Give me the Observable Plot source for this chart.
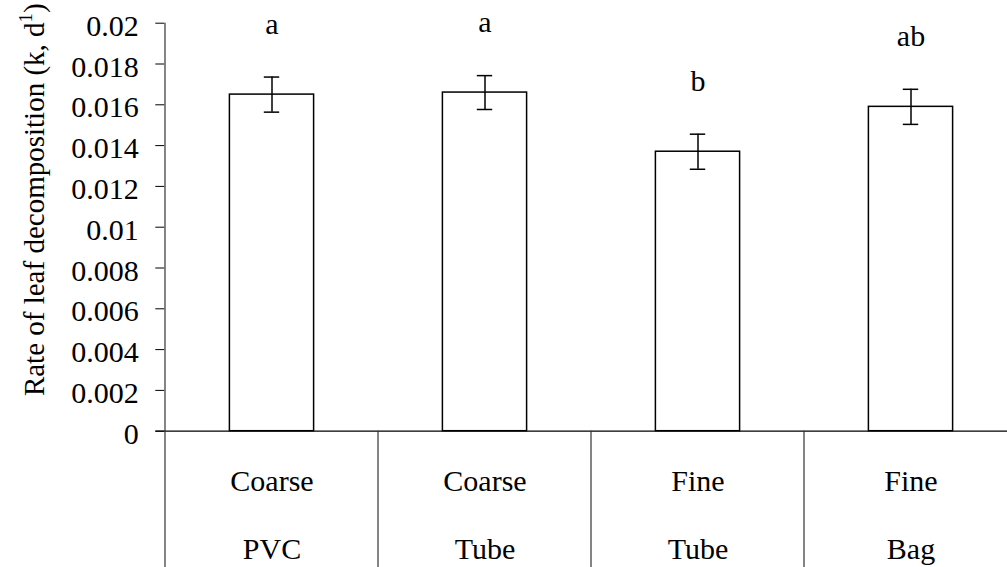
<!DOCTYPE html>
<html>
<head>
<meta charset="utf-8">
<script src="https://cdn.jsdelivr.net/npm/d3@7"></script>
<script src="https://cdn.jsdelivr.net/npm/@observablehq/plot@0.6"></script>
<style>
  body { margin: 0; background: #fff; }
  #chart { width: 1007px; height: 567px; overflow: hidden; position: relative; }
  #chart svg { display: block; max-width: none !important; width: 1018px !important; height: 567px !important; }
  #chart svg text { font-family: 'Liberation Serif', 'Times New Roman', serif !important; }
</style>
</head>
<body>
<div id="chart"></div>
<script>
// Leaf decomposition rate by mesh size and enclosure type
const mesh = ["Coarse", "Coarse", "Fine", "Fine"];
const housing = ["PVC", "Tube", "Tube", "Bag"];
const rateK = [0.0165, 0.0166, 0.0137, 0.0159];
const rateSE = [0.00086, 0.00083, 0.00086, 0.00086];
const groupLetters = ["a", "a", "b", "ab"];
const yTicks = [0, 0.002, 0.004, 0.006, 0.008, 0.01, 0.012, 0.014, 0.016, 0.018, 0.02];
const yTitle = "Rate of leaf decomposition (k, d";
const yTitleSup = "1";

const rows = mesh.map((m, i) => ({
  cat: m + "\n" + housing[i],
  k: rateK[i],
  lo: rateK[i] - rateSE[i],
  hi: rateK[i] + rateSE[i],
  letter: groupLetters[i]
}));
const cats = rows.map(d => d.cat);

const W = 1018, H = 567;
const font = "'Liberation Serif', 'Times New Roman', serif";

const chart = Plot.plot({
  width: W,
  height: H,
  marginLeft: 164.3,
  marginRight: 0,
  marginTop: 22.7,
  marginBottom: 136.3,
  style: { fontFamily: font, fontSize: "30px", color: "#000", background: "#fff", overflow: "visible" },
  x: { domain: cats, padding: 0 },
  y: { domain: [0, 0.02] },
  marks: [
    Plot.barY(rows, { x: "cat", y: "k", fill: "white", stroke: "#000", strokeWidth: 1.5, insetLeft: 64.4, insetRight: 64.4 }),
    Plot.ruleX(rows, { x: "cat", y1: "lo", y2: "hi", stroke: "#000", strokeWidth: 1.5 }),
    Plot.tickY(rows, { x: "cat", y: "lo", stroke: "#000", strokeWidth: 1.5, insetLeft: 98.8, insetRight: 98.8 }),
    Plot.tickY(rows, { x: "cat", y: "hi", stroke: "#000", strokeWidth: 1.5, insetLeft: 98.8, insetRight: 98.8 }),
    Plot.text(rows, { x: "cat", y: "hi", text: "letter", dy: -53, fontSize: 30, fill: "#000", fontFamily: font }),
    Plot.ruleY([0], { stroke: "#000", strokeWidth: 1.3, insetLeft: -9 }),
    Plot.axisY({ ticks: yTicks, tickSize: 9, tickPadding: 17, fontSize: 30, fontFamily: font, tickFormat: d => String(d), label: null, color: "#000" }),
    Plot.axisX({ tickSize: 0, tickPadding: 11, lineHeight: 2.27, fontSize: 30, fontFamily: font, label: null, color: "#000" })
  ]
});

document.getElementById("chart").appendChild(chart);

const svg = d3.select(chart.tagName.toLowerCase() === "svg" ? chart : chart.querySelector("svg"));

// Nudge the value-axis labels slightly below their ticks
svg.selectAll("g[aria-label='y-axis tick label']").attr("transform", function () {
  const t = this.getAttribute("transform") || "";
  return t + " translate(0,3)";
});

// Category dividers below the baseline, and the value axis line
const xs = chart.scale("x");
const ys = chart.scale("y");
cats.forEach((c, i) => {
  const x = xs.apply(c);
  svg.append("line")
    .attr("x1", x).attr("x2", x)
    .attr("y1", i === 0 ? ys.apply(0.02) : ys.apply(0))
    .attr("y2", H)
    .attr("stroke", "#333")
    .attr("stroke-width", 1.2);
});

// Rotated value-axis title with superscript unit
const title = svg.append("text")
  .attr("transform", `translate(44,${(ys.apply(0) + ys.apply(0.02)) / 2 - 27}) rotate(-90)`)
  .attr("text-anchor", "middle")
  .attr("font-family", font)
  .attr("font-size", 29)
  .attr("fill", "#000");
title.append("tspan").text(yTitle);
title.append("tspan").attr("font-size", 19).attr("dy", -12).text(yTitleSup);
title.append("tspan").attr("dy", 12).text(")");
</script>
</body>
</html>
